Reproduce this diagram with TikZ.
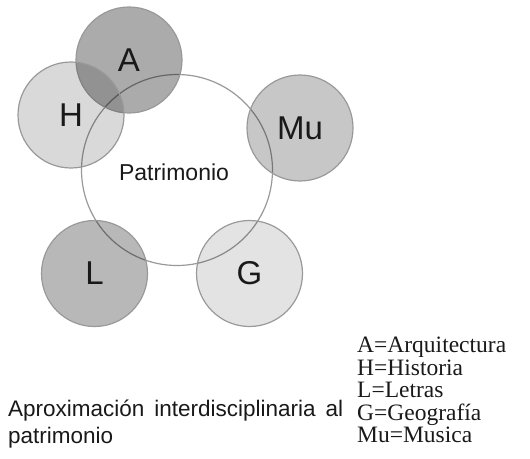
\documentclass[tikz,border=0pt]{standalone}
\usepackage{fontspec}
\setmainfont{Liberation Serif}
\newfontfamily\arialsans{Liberation Sans}
\begin{document}
\begin{tikzpicture}[x=1pt,y=-1pt,line cap=round,line join=round]
	\useasboundingbox (0,0) rectangle (530,458);
	\tikzset{disc/.style={circle,draw=black!40,line width=1.2pt,fill=black,fill opacity=#1,text opacity=1,
			minimum size=106pt,inner sep=0pt,text=black!90,font=\arialsans\fontsize{33}{33}\selectfont}}
	% big circle
	\node[circle,draw=black!40,line width=1.2pt,minimum size=191pt,inner sep=0pt] (patri) at (177,170) {};
	\node[text=black!90,font=\arialsans\fontsize{23}{23}\selectfont] (patrilbl) at (174,172) {Patrimonio};
	% the five disciplines
	\foreach \nm/\px/\py/\op/\txt in {arq/129/60/0.33/A,his/71/115/0.15/H,mus/300/128/0.22/Mu,let/94.5/273.5/0.28/L,geo/249.5/273.5/0.11/G}{
		\node[disc=\op] (\nm) at (\px,\py) {\txt};}
	% texts
	\node[anchor=north west,text width=335pt,align=justify,inner sep=0pt,text=black!90,
		font=\arialsans\fontsize{22.5}{27}\selectfont] (capt) at (8,400) {Aproximación interdisciplinaria al patrimonio};
	\node[anchor=north west,align=left,inner sep=0pt,text=black!90,
		font=\fontsize{23.5}{22.5}\selectfont] (leg) at (357,337) {A=Arquitectura\\H=Historia\\L=Letras\\G=Geografía\\Mu=Musica};
\end{tikzpicture}
\end{document}
